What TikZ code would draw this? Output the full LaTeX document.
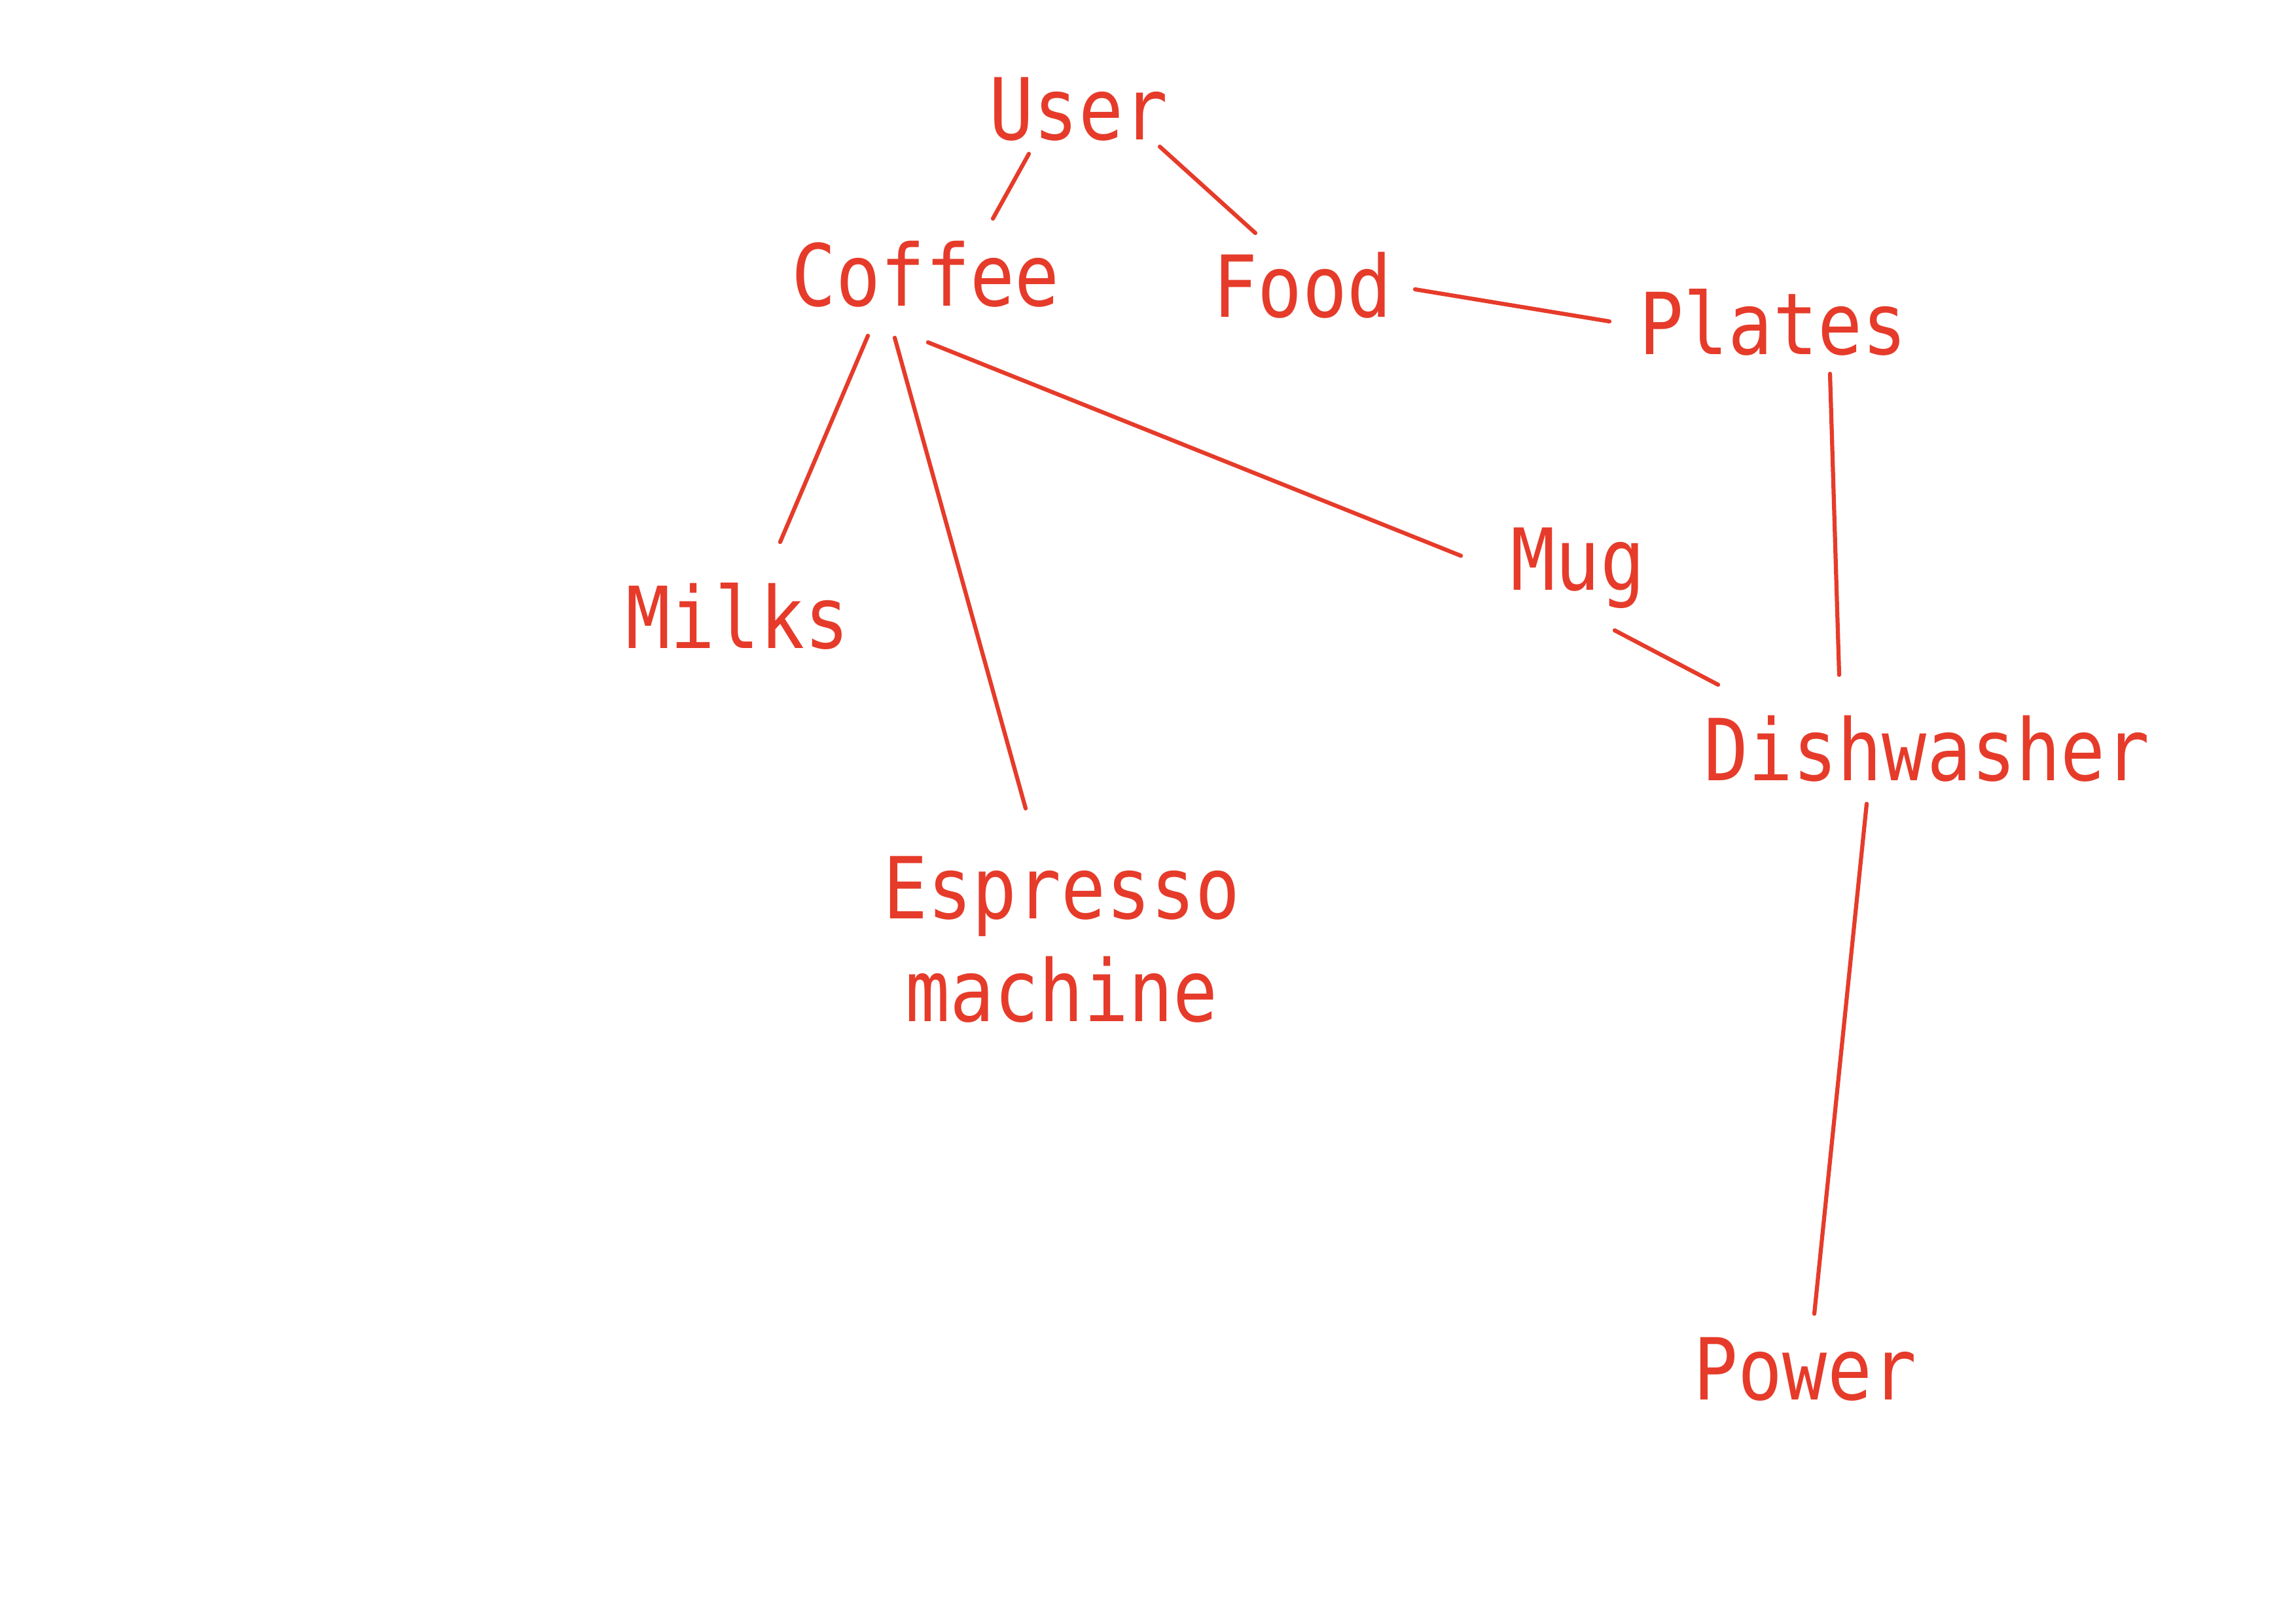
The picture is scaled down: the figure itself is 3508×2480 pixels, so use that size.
\documentclass[tikz,border=0pt]{standalone}
\usepackage{fontspec}
\newfontfamily\lblfont[FakeStretch=0.865]{DejaVu Sans Mono}
\definecolor{ink}{RGB}{230,59,42}
\begin{document}
\begin{tikzpicture}[x=0.0084667cm,y=-0.0084667cm,
  lbl/.style={text=ink,inner sep=0pt,outer sep=0pt,anchor=base,
    font=\lblfont\fontsize{31.5}{37.8}\selectfont},
  link/.style={draw=ink,line width=1.5pt,line cap=round}]
\useasboundingbox[fill=white] (0,0) rectangle (3508,2480);
% nodes
\node[lbl] (user) at (1648,213) {User};
\node[lbl] (coffee) at (1414,467) {Coffee};
\node[lbl] (food) at (1990,484) {Food};
\node[lbl] (plates) at (2709,541) {Plates};
\node[lbl] (mug) at (2411,901) {Mug};
\node[lbl] (milks) at (1127,990) {Milks};
\node[lbl] (dish) at (2944,1192) {Dishwasher};
\node[lbl,align=center,anchor=north] (espresso) at (1622,1308) {Espresso\\machine};
\node[lbl] (power) at (2758,2138) {Power};
% connector ends
\coordinate (uc1) at (1572,235); \coordinate (uc2) at (1517,334);
\coordinate (uf1) at (1772,224); \coordinate (uf2) at (1918,356);
\coordinate (fp1) at (2162,442); \coordinate (fp2) at (2459,491);
\coordinate (cm1) at (1326,513); \coordinate (cm2) at (1192,828);
\coordinate (ce1) at (1367,516); \coordinate (ce2) at (1567,1235);
\coordinate (cg1) at (1418,523); \coordinate (cg2) at (2232,849);
\coordinate (pd1) at (2796,571); \coordinate (pd2) at (2810,1031);
\coordinate (md1) at (2467,963); \coordinate (md2) at (2625,1046);
\coordinate (dp1) at (2852,1228); \coordinate (dp2) at (2772,2007);
% connectors
\draw[link] (uc1) -- (uc2);
\draw[link] (uf1) -- (uf2);
\draw[link] (fp1) -- (fp2);
\draw[link] (cm1) -- (cm2);
\draw[link] (ce1) -- (ce2);
\draw[link] (cg1) -- (cg2);
\draw[link] (pd1) -- (pd2);
\draw[link] (md1) -- (md2);
\draw[link] (dp1) -- (dp2);
\end{tikzpicture}
\end{document}
